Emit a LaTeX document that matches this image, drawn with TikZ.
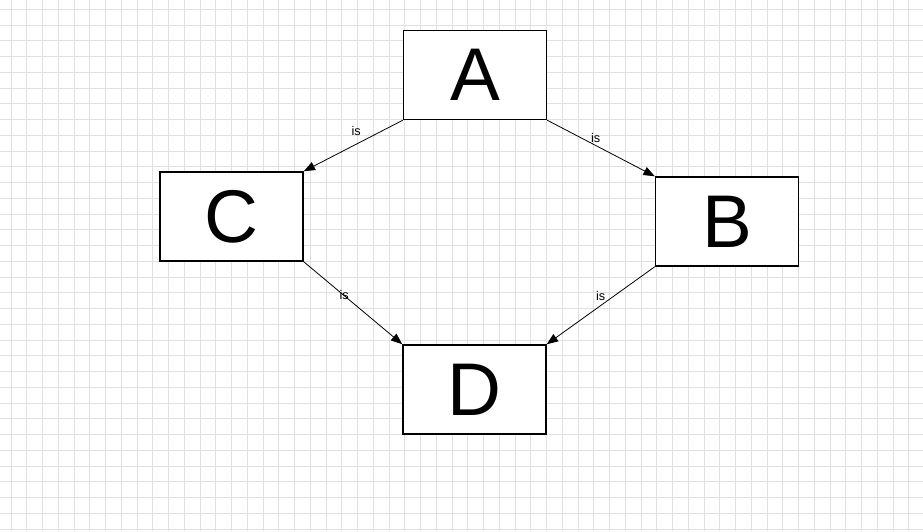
\documentclass[tikz,border=0pt]{standalone}
\usepackage{fontspec}
\setmainfont{Liberation Sans}
\usetikzlibrary{arrows.meta}
\definecolor{gridgray}{RGB}{224,224,224}
\tikzset{
  box/.style={draw=black, line width=1.1pt, fill=white, rectangle, minimum width=107.25pt, minimum height=66.75pt, inner sep=0pt, font=\fontsize{56}{60}\selectfont},
  gridline/.style={draw=gridgray, line width=0.75pt},
  conn/.style={draw=black, line width=0.6pt, -{Triangle[length=8.5pt,width=6.5pt]}},
  lbl/.style={font=\fontsize{9.5}{10}\selectfont, inner sep=0pt}
}
\begin{document}
\begin{tikzpicture}[x=0.75pt,y=-0.75pt]
\fill[white] (0,0) rectangle (923,531);
\useasboundingbox (0,0) rectangle (923,531);
\foreach \i in {0,...,57} {
  \pgfmathsetmacro{\gx}{11+15.75*\i}
  \draw[gridline] (\gx,0) -- (\gx,531);
}
\foreach \j in {0,...,33} {
  \pgfmathsetmacro{\gy}{9.3+15.75*\j}
  \draw[gridline] (0,\gy) -- (923,\gy);
}
\node[box] (A) at (475,75) {A};
\node[box] (C) at (231.5,216.5) {C};
\node[box] (B) at (727,221.5) {B};
\node[box] (D) at (474.5,389.5) {D};
\draw[conn] (A.south west) -- (C.north east) node[lbl, pos=0.47, yshift=10pt] (l1) {is};
\draw[conn] (A.south east) -- (B.north west) node[lbl, pos=0.45, yshift=5.75pt] (l2) {is};
\draw[conn] (C.south east) -- (D.north west) node[lbl, pos=0.41, yshift=0.25pt] (l3) {is};
\draw[conn] (B.south west) -- (D.north east) node[lbl, pos=0.5, yshift=7.5pt] (l4) {is};
\end{tikzpicture}
\end{document}
